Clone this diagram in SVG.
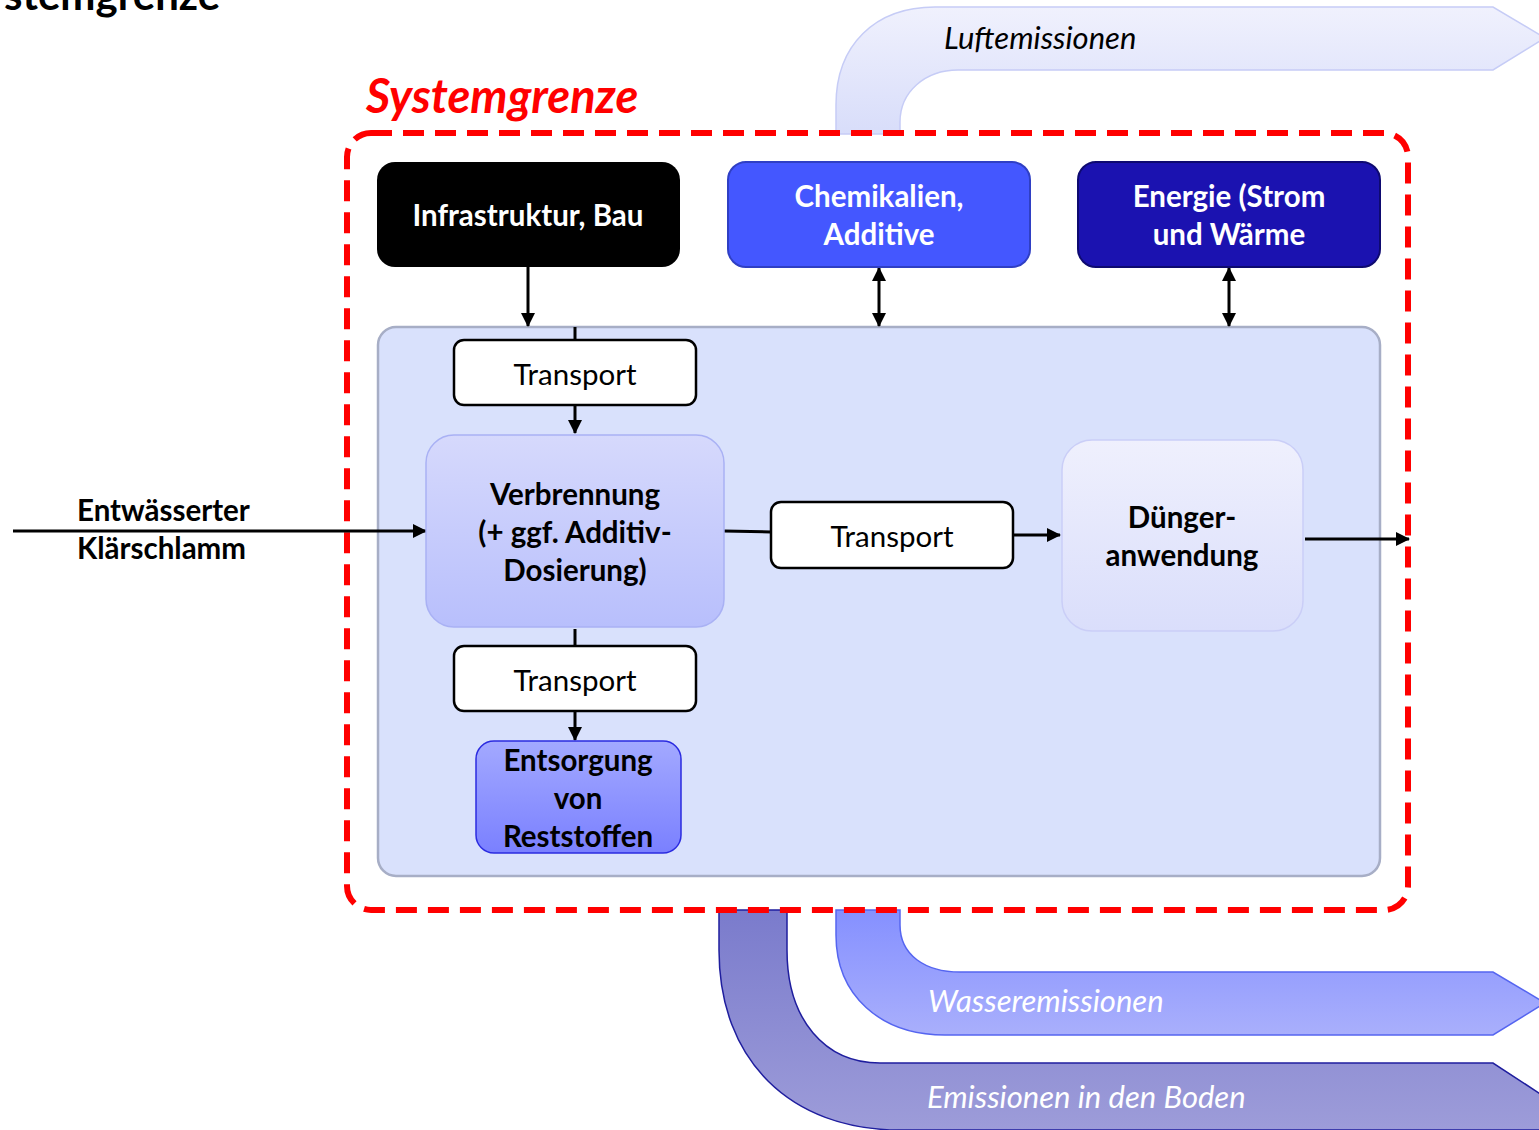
<svg xmlns="http://www.w3.org/2000/svg" width="1539" height="1130" viewBox="0 0 1539 1130">
<style>
text{font-family:Lato,"Liberation Sans",sans-serif}
.b{font-weight:700}
.lbl{font-size:29.5px;fill:#000;text-anchor:middle}
.w{fill:#fff}
.em{font-style:italic;font-size:31px}
.con{stroke:#000;stroke-width:3;fill:none}
.tr{fill:#fff;stroke:#000;stroke-width:2.5}
</style>
<defs>
<marker id="ah" viewBox="0 0 14 14" refX="13" refY="7" markerWidth="14" markerHeight="14" markerUnits="userSpaceOnUse" orient="auto-start-reverse">
<path d="M0,0 L14,7 L0,14 Z" fill="#000"/>
</marker>
<linearGradient id="gLuft" x1="0" y1="0" x2="0" y2="1"><stop offset="0" stop-color="#f0f1fd"/><stop offset="1" stop-color="#d8ddfa"/></linearGradient>
<linearGradient id="gWas" x1="0" y1="0" x2="0" y2="1"><stop offset="0" stop-color="#8590ff"/><stop offset="1" stop-color="#a9affc"/></linearGradient>
<linearGradient id="gBod" x1="0" y1="0" x2="0" y2="1"><stop offset="0" stop-color="#7a7bcc"/><stop offset="1" stop-color="#9d9cd9"/></linearGradient>
<linearGradient id="gVer" x1="0" y1="0" x2="0" y2="1"><stop offset="0" stop-color="#d6d9fc"/><stop offset="1" stop-color="#b8bffc"/></linearGradient>
<linearGradient id="gDue" x1="0" y1="0" x2="0" y2="1"><stop offset="0" stop-color="#eff0fd"/><stop offset="1" stop-color="#dadefb"/></linearGradient>
<linearGradient id="gEnt" x1="0" y1="0" x2="0" y2="1"><stop offset="0" stop-color="#a3a9ff"/><stop offset="1" stop-color="#7a80ff"/></linearGradient>
</defs>
<rect width="1539" height="1130" fill="#fff"/>
<text x="4" y="10" class="b" font-size="42" fill="#000">stemgrenze</text>

<g id="luftemissionen">
<path d="M836,134 L836,105 C836,45 875,7 935,7 L1493,7 L1545,38 L1493,70 L958,70 C925,70 900,92 900,122 L900,134 Z" fill="url(#gLuft)" stroke="#c6ccf6" stroke-width="1.5"/>
<text x="944" y="49" class="em" fill="#000">Luftemissionen</text>
</g>
<g id="emissionen-boden">
<path d="M719,910 L719,950 C719,1060 790,1130 900,1130 L1545,1130 L1545,1097 L1493,1063 L880,1063 C825,1063 787,1020 787,950 L787,910 Z" fill="url(#gBod)" stroke="#1f1e9e" stroke-width="1.5"/>
<text x="927" y="1108" class="em w">Emissionen in den Boden</text>
</g>
<g id="wasseremissionen">
<path d="M836,910 L836,935 C836,995 880,1035 945,1035 L1493,1035 L1545,1003 L1493,972 L960,972 C925,972 900,955 900,925 L900,910 Z" fill="url(#gWas)" stroke="#5565f0" stroke-width="1.5"/>
<text x="928" y="1012" class="em w">Wasseremissionen</text>
</g>

<g id="prozess-container">
<rect x="378" y="327" width="1002" height="549" rx="18" fill="#d9e1fc" stroke="#a7aec6" stroke-width="2.5"/>
</g>

<g id="systemgrenze">
<rect x="347" y="133" width="1061" height="777" rx="24" fill="none" stroke="#ff0000" stroke-width="6" stroke-dasharray="21 11"/>
<text x="366" y="113" class="b" font-size="47" font-style="italic" fill="#ff0000">Systemgrenze</text>
</g>

<g id="connectors">
<line class="con" x1="528" y1="267" x2="528" y2="326" marker-end="url(#ah)"/>
<line class="con" x1="575" y1="327" x2="575" y2="340"/>
<line class="con" x1="575" y1="405" x2="575" y2="433" marker-end="url(#ah)"/>
<line class="con" x1="879" y1="268" x2="879" y2="326" marker-start="url(#ah)" marker-end="url(#ah)"/>
<line class="con" x1="1229" y1="268" x2="1229" y2="326" marker-start="url(#ah)" marker-end="url(#ah)"/>
<line class="con" x1="13" y1="531" x2="426" y2="531" marker-end="url(#ah)"/>
<line class="con" x1="724" y1="531" x2="771" y2="532"/>
<line class="con" x1="1013" y1="535" x2="1060" y2="535" marker-end="url(#ah)"/>
<line class="con" x1="1305" y1="539" x2="1409" y2="539" marker-end="url(#ah)"/>
<line class="con" x1="575" y1="629" x2="575" y2="646"/>
<line class="con" x1="575" y1="711" x2="575" y2="740" marker-end="url(#ah)"/>
</g>

<g id="input-label">
<text x="77" y="521" class="b" font-size="29.5" fill="#000">Entwässerter</text>
<text x="77" y="559" class="b" font-size="29.5" fill="#000">Klärschlamm</text>
</g>

<g id="infrastruktur">
<rect x="377" y="162" width="303" height="105" rx="18" fill="#000"/>
<text x="528" y="226" class="lbl b w" font-size="28.6">Infrastruktur, Bau</text>
</g>
<g id="chemikalien">
<rect x="728" y="162" width="302" height="105" rx="18" fill="#4457ff" stroke="#2f3fc4" stroke-width="2"/>
<text x="879" y="207" class="lbl b w">Chemikalien,</text>
<text x="879" y="245" class="lbl b w">Additive</text>
</g>
<g id="energie">
<rect x="1078" y="162" width="302" height="105" rx="18" fill="#1b12b0" stroke="#0e0a70" stroke-width="2"/>
<text x="1229" y="207" class="lbl b w">Energie (Strom</text>
<text x="1229" y="245" class="lbl b w">und Wärme</text>
</g>
<g id="transport-1">
<rect x="454" y="340" width="242" height="65" rx="10" class="tr"/>
<text x="575" y="385" class="lbl">Transport</text>
</g>
<g id="verbrennung">
<rect x="426" y="435" width="298" height="192" rx="28" fill="url(#gVer)" stroke="#a9b1f4" stroke-width="1.5"/>
<text x="575" y="505" class="lbl b">Verbrennung</text>
<text x="575" y="543" class="lbl b">(+ ggf. Additiv-</text>
<text x="575" y="581" class="lbl b">Dosierung)</text>
</g>
<g id="transport-2">
<rect x="771" y="502" width="242" height="66" rx="10" class="tr"/>
<text x="892" y="547" class="lbl">Transport</text>
</g>
<g id="duenger">
<rect x="1062" y="440" width="241" height="191" rx="30" fill="url(#gDue)" stroke="#cacef7" stroke-width="1.5"/>
<text x="1182" y="528" class="lbl b">Dünger-</text>
<text x="1182" y="566" class="lbl b">anwendung</text>
</g>
<g id="transport-3">
<rect x="454" y="646" width="242" height="65" rx="10" class="tr"/>
<text x="575" y="691" class="lbl">Transport</text>
</g>
<g id="entsorgung">
<rect x="476" y="741" width="205" height="112" rx="18" fill="url(#gEnt)" stroke="#2b2be0" stroke-width="1.5"/>
<text x="578" y="771" class="lbl b" font-size="30.5">Entsorgung</text>
<text x="578" y="809" class="lbl b" font-size="30.5">von</text>
<text x="578" y="847" class="lbl b" font-size="30.5">Reststoffen</text>
</g>
</svg>
